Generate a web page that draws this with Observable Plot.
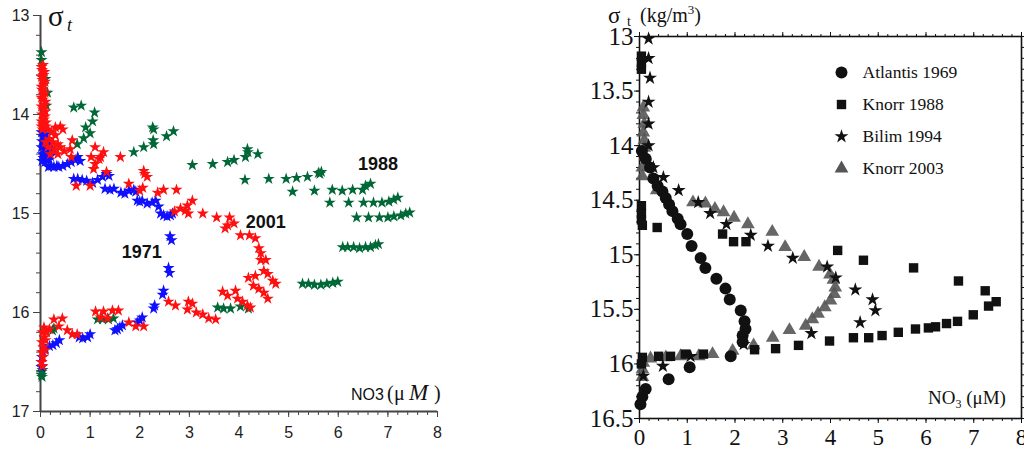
<!DOCTYPE html>
<html><head><meta charset="utf-8">
<script src="https://cdn.jsdelivr.net/npm/d3@7"></script>
<script src="https://cdn.jsdelivr.net/npm/@observablehq/plot@0.6"></script>
<style>
html,body{margin:0;padding:0;background:#fff;}
#wrap{position:relative;width:1024px;height:456px;overflow:hidden;background:#fff;}
#left,#right{position:absolute;top:0;}
#left{left:0;} #right{left:560px;}
#ann{position:absolute;left:0;top:0;pointer-events:none;}
</style></head><body>
<div id="wrap"><div id="left"></div><div id="right"></div>
<svg id="ann" width="1024" height="456" xmlns="http://www.w3.org/2000/svg">
  <text x="48" y="26" font-family="Liberation Serif" font-size="29" fill="#111">σ</text>
  <text x="67" y="31" font-family="Liberation Serif" font-style="italic" font-size="18" fill="#111">t</text>
  <text x="351" y="400" font-family="Liberation Sans" font-size="16" fill="#111">NO3</text>
  <text x="387" y="400" font-family="Liberation Serif" font-size="20" fill="#111">(</text>
  <text x="394" y="400" font-family="Liberation Serif" font-size="20" fill="#111">μ</text>
  <text x="409" y="400" font-family="Liberation Serif" font-style="italic" font-size="23" fill="#111">M</text>
  <text x="434" y="400" font-family="Liberation Serif" font-size="20" fill="#111">)</text>
  <text x="608" y="23" font-family="Liberation Serif" font-size="23" fill="#111">σ</text>
  <text x="627" y="26" font-family="Liberation Serif" font-size="14" fill="#111">t</text>
  <text x="640" y="22" font-family="Liberation Serif" font-size="20" fill="#111">(kg/m<tspan dy="-8" font-size="13">3</tspan><tspan dy="8">)</tspan></text>
  <text x="928" y="404" font-family="Liberation Serif" font-size="19" fill="#111">NO<tspan dy="4" font-size="12">3</tspan><tspan dy="-4"> (μM)</tspan></text>
</svg></div>
<script>
// ---------- Left panel data (NO3 µM, sigma-t) ----------
const xTicksLeft = [0, 1, 2, 3, 4, 5, 6, 7, 8];
const yTicksLeft = [13, 14, 15, 16, 17];

const series1988 = [
  [0.02,13.37],[0.02,13.45],[0.1,13.64],[0.14,13.78],[0.12,13.91],[0.06,14.1],[0.05,14.18],
  [0.67,13.93],[0.82,13.91],[1.09,13.98],[1.05,14.07],[0.91,14.13],[1.0,14.19],[0.87,14.24],[0.74,14.3],
  [1.88,14.38],[2.08,14.33],[2.26,14.13],[2.28,14.15],[2.27,14.26],[2.28,14.3],[2.54,14.22],[2.68,14.17],
  [3.06,14.51],[3.47,14.5],[3.77,14.48],[3.9,14.46],[4.13,14.43],[4.17,14.35],[4.18,14.38],[4.38,14.4],
  [4.12,14.66],[4.6,14.65],[4.95,14.65],[5.16,14.64],[5.38,14.63],[5.6,14.59],[5.66,14.58],[5.63,14.6],
  [5.08,14.78],[5.52,14.77],[5.88,14.76],[6.08,14.77],[6.29,14.76],[6.49,14.76],[6.55,14.72],[6.65,14.7],
  [5.83,14.89],[6.21,14.89],[6.51,14.89],[6.71,14.89],[6.88,14.89],[7.02,14.88],[7.12,14.86],[7.2,14.84],
  [6.37,15.04],[6.61,15.04],[6.83,15.04],[7.0,15.04],[7.12,15.03],[7.26,15.02],[7.36,15.0],[7.44,14.99],
  [6.09,15.34],[6.19,15.34],[6.31,15.34],[6.43,15.35],[6.55,15.34],[6.65,15.34],[6.75,15.32],[6.81,15.31],
  [5.28,15.71],[5.4,15.71],[5.52,15.72],[5.65,15.72],[5.77,15.71],[5.89,15.7],[5.99,15.69],
  [3.57,15.95],[3.69,15.96],[3.83,15.96],[4.03,15.94],[4.19,15.96],
  [1.15,16.07],[1.25,16.07],[1.37,16.07],[1.47,16.06],
  [0.24,16.18],[0.27,16.16],
  [0.02,16.55],[0.02,16.6],[0.03,16.65],[0.04,16.58],[0.02,16.63]
];

const series1971 = [
  [0.02,14.18],[0.05,14.22],[0.1,14.2],[0.03,14.27],[0.08,14.28],[0.14,14.25],[0.02,14.33],[0.07,14.35],
  [0.12,14.33],[0.18,14.3],[0.04,14.4],[0.1,14.4],[0.15,14.38],[0.06,14.44],[0.12,14.45],[0.2,14.42],[0.25,14.36],
  [0.03,14.47],[0.09,14.48],[0.16,14.46],
  [0.16,14.53],[0.22,14.52],[0.27,14.53],[0.33,14.52],[0.37,14.53],[0.45,14.52],[0.54,14.5],[0.62,14.48],
  [0.7,14.46],[0.75,14.43],[0.8,14.47],[0.67,14.65],[0.75,14.65],[0.84,14.66],[0.93,14.67],[1.05,14.69],
  [1.15,14.66],[1.25,14.63],[1.33,14.6],[1.38,14.62],[1.3,14.75],[1.4,14.76],[1.48,14.75],[1.62,14.79],
  [1.7,14.8],[1.78,14.77],[1.88,14.76],[1.92,14.78],[1.95,14.87],[2.0,14.88],[2.05,14.87],[2.15,14.9],
  [2.25,14.89],[2.32,14.87],[2.38,14.93],[2.42,15.0],[2.48,15.02],[2.55,15.03],[2.62,15.02],[2.66,15.0],
  [2.61,15.23],[2.64,15.27],[2.58,15.55],[2.6,15.6],[2.48,15.78],[2.46,15.82],[2.3,15.93],[2.28,15.96],
  [2.05,16.05],[2.0,16.08],[1.95,16.1],[1.65,16.13],[1.6,16.15],[1.55,16.17],[1.5,16.18],
  [1.0,16.22],[0.95,16.25],[0.85,16.26],[0.78,16.25],[0.38,16.28],[0.32,16.31],[0.25,16.33],[0.18,16.34],
  [0.1,16.37],[0.05,16.4],[0.03,16.45],[0.02,16.5],[0.02,16.55]
];

const series2001 = [
  [0.05,13.5],[0.03,13.55],[0.06,13.6],[0.04,13.65],[0.07,13.7],[0.03,13.75],[0.06,13.8],[0.04,13.85],
  [0.08,13.9],[0.05,13.95],[0.03,14.0],[0.07,14.05],[0.05,14.1],[0.1,14.12],[0.04,14.15],
  [0.02,13.52],[0.08,13.57],[0.02,13.62],[0.09,13.67],[0.02,13.72],[0.09,13.78],[0.02,13.83],[0.1,13.87],
  [0.02,13.92],[0.1,13.97],[0.09,14.02],[0.02,14.07],[0.11,14.08],[0.02,14.12],
  [0.15,14.15],[0.22,14.18],[0.3,14.13],[0.4,14.12],[0.45,14.15],[0.3,14.21],[0.18,14.25],[0.1,14.28],
  [0.25,14.28],[0.35,14.3],[0.15,14.33],[0.28,14.35],[0.4,14.33],[0.48,14.37],[0.35,14.4],[0.2,14.4],
  [0.64,14.26],[0.6,14.35],[0.62,14.43],[0.72,14.72],[1.0,14.72],[1.02,14.43],[1.1,14.33],[1.1,14.5],
  [1.21,14.43],[1.27,14.38],[1.18,14.45],[1.07,14.55],[1.33,14.58],[1.61,14.43],[1.78,14.7],[2.08,14.57],
  [2.15,14.63],[2.1,14.6],[2.06,14.74],[2.0,14.77],[2.36,14.79],[2.48,14.76],[2.74,14.76],[2.7,14.98],
  [2.82,14.95],[2.92,14.97],[2.96,14.92],[3.06,14.87],[2.98,15.0],[3.27,15.0],[3.55,15.04],[3.81,15.04],
  [3.77,15.12],[3.9,15.1],[3.72,15.15],[4.03,15.22],[4.21,15.22],[4.33,15.25],[4.4,15.35],[4.44,15.4],
  [4.44,15.47],[4.54,15.47],[4.5,15.58],[4.58,15.61],[4.68,15.68],[4.74,15.71],[4.19,15.65],[4.33,15.63],
  [4.29,15.73],[4.4,15.76],[4.5,15.8],[4.58,15.86],[3.67,15.79],[3.77,15.83],[3.93,15.78],[3.97,15.86],
  [4.07,15.89],[4.17,15.93],[4.23,15.95],[2.58,15.89],[2.72,15.93],[2.98,15.89],[3.06,15.91],[2.96,15.97],
  [3.14,16.0],[3.27,16.02],[3.39,16.06],[3.53,16.07],[2.08,16.14],[1.92,16.14],[1.78,16.1],[1.57,15.98],
  [1.45,15.98],[1.27,15.99],[1.11,15.99],[1.21,16.05],[1.35,16.06],[0.27,16.07],[0.44,16.06],[0.37,16.14],
  [0.54,16.18],[0.64,16.22],[0.74,16.22],[0.07,16.15],[0.12,16.2],[0.04,16.2],[0.08,16.25],[0.03,16.3],
  [0.06,16.35],[0.03,16.4],[0.05,16.45],[0.02,16.5],[0.04,16.54],[0.1,16.28],[0.09,16.38],[0.18,16.17]
];

const yearLabels = ["1988", "2001", "1971"];
const yearLabelX = [6.8, 4.54, 2.04];
const yearLabelY = [14.5, 15.09, 15.39];

// ---------- Right panel data ----------
const xTicksRight = [0, 1, 2, 3, 4, 5, 6, 7, 8];
const yTicksRight = [13, 13.5, 14, 14.5, 15, 15.5, 16, 16.5];
const legendNames = ["Atlantis 1969", "Knorr 1988", "Bilim 1994", "Knorr 2003"];

const atlantis1969 = [
  [0.05,14.05],[0.13,14.12],[0.22,14.2],[0.29,14.3],[0.38,14.37],[0.48,14.42],[0.55,14.48],[0.62,14.54],
  [0.69,14.6],[0.8,14.67],[0.86,14.72],[1.0,14.81],[1.09,14.92],[1.28,15.03],[1.38,15.12],[1.61,15.22],
  [1.8,15.31],[1.89,15.41],[2.12,15.51],[2.2,15.61],[2.22,15.68],[2.16,15.74],[2.16,15.8],[1.91,15.93],
  [1.05,16.03],[0.61,16.14],[0.13,16.23],[0.06,16.3],[0.02,16.37]
];
const knorr1988 = [
  [0.04,13.18],[0.04,13.24],[0.04,13.3],[0.04,14.55],[0.04,14.62],[0.04,14.68],[0.06,14.73],[0.37,14.75],
  [1.74,14.81],[1.97,14.88],[2.23,14.88],[4.15,14.96],[4.69,15.05],[5.74,15.12],[6.68,15.24],[7.24,15.33],
  [7.47,15.43],[7.31,15.47],[6.99,15.55],[6.66,15.61],[6.43,15.63],[6.2,15.66],[6.05,15.67],[5.78,15.68],
  [5.42,15.71],[5.08,15.74],[4.8,15.76],[4.48,15.76],[3.98,15.79],[3.33,15.83],[2.85,15.86],[2.41,15.87],
  [1.34,15.91],[0.96,15.91],[0.65,15.93],[0.4,15.93],[0.06,15.94],[0.04,16.0]
];
const bilim1994 = [
  [0.19,13.02],[0.19,13.2],[0.22,13.38],[0.19,13.6],[0.19,13.8],[0.19,14.0],[0.29,14.2],[0.5,14.29],
  [0.82,14.41],[1.23,14.52],[1.48,14.62],[1.82,14.72],[2.33,14.82],[2.69,14.92],[3.21,15.03],[3.93,15.11],
  [4.11,15.21],[4.52,15.32],[4.88,15.41],[4.94,15.51],[4.62,15.62],[3.6,15.72],[2.18,15.82],[1.07,15.93],
  [0.49,16.02],[0.08,16.11]
];
const knorr2003 = [
  [0.08,13.65],[0.08,13.72],[0.1,13.8],[0.08,13.88],[0.1,13.95],[0.1,14.02],[0.12,14.1],[0.06,14.2],[0.06,14.28],
  [0.36,14.41],[1.12,14.52],[1.38,14.53],[1.58,14.58],[1.76,14.61],[1.98,14.66],[2.27,14.72],[2.78,14.79],
  [3.05,14.93],[3.45,15.02],[3.76,15.11],[3.99,15.18],[4.06,15.23],[4.1,15.3],[4.08,15.36],[4.0,15.42],
  [3.88,15.48],[3.74,15.54],[3.62,15.59],[3.48,15.65],[3.14,15.69],[2.79,15.76],[2.39,15.83],[1.95,15.88],
  [1.53,15.91],[1.24,15.93],[0.86,15.93],[0.55,15.94],[0.23,15.95],[0.08,15.99],[0.06,16.05],[0.06,16.12]
];

const px = d => d[0], py = d => d[1];
const axisColor = "#444";
const plain = d => String(d);

// ---------- Left plot ----------
const left = Plot.plot({
  width: 460, height: 456,
  marginLeft: 40, marginRight: 23, marginTop: 15, marginBottom: 45,
  x: {domain: [0, 8]},
  y: {domain: [13, 17], reverse: true},
  style: {fontFamily: "Liberation Sans, Arial, sans-serif", fontSize: "16px", color: "#222", background: "transparent", overflow: "visible"},
  marks: [
    Plot.axisX({ticks: d3.range(0, 8.001, 0.2), tickSize: 4, tickFormat: () => "", stroke: axisColor, label: null}),
    Plot.axisX({ticks: xTicksLeft, tickSize: 6, tickPadding: 9, tickFormat: plain, stroke: axisColor, label: null, fontSize: 16}),
    Plot.axisY({ticks: d3.range(13, 17.001, 0.2), tickSize: 4, tickFormat: () => "", stroke: axisColor, label: null}),
    Plot.axisY({ticks: yTicksLeft, tickSize: 7, tickPadding: 4, tickFormat: plain, stroke: axisColor, label: null, fontSize: 16}),
    Plot.ruleX([0], {stroke: axisColor, strokeWidth: 2}),
    Plot.ruleY([17], {stroke: axisColor, strokeWidth: 2}),
    Plot.dot(series1988, {x: px, y: py, symbol: "star", r: 3.8, fill: "#006837"}),
    Plot.dot(series1971, {x: px, y: py, symbol: "star", r: 3.8, fill: "#1010ff"}),
    Plot.dot(series2001, {x: px, y: py, symbol: "star", r: 3.8, fill: "#ff1010"}),
    Plot.text(yearLabels, {x: (d, i) => yearLabelX[i], y: (d, i) => yearLabelY[i], text: d => d,
      fontWeight: "bold", fontSize: 18, fill: "#111"})
  ]
});
document.getElementById("left").appendChild(left);

// ---------- Right plot ----------
const legendSymbols = ["circle", "square", "star", "triangle"];
const legendFills = ["#111", "#111", "#111", "#555"];
const legendR = [6, 5.3, 4.4, 5.1];
const legendMarks = [];
legendNames.forEach((name, i) => {
  legendMarks.push(Plot.dot([name], {frameAnchor: "top-left", dx: 202, dy: 36 + i * 32,
    symbol: legendSymbols[i], r: legendR[i], fill: legendFills[i]}));
  legendMarks.push(Plot.text([name], {frameAnchor: "top-left", dx: 223, dy: 36 + i * 32,
    text: d => d, textAnchor: "start", lineAnchor: "middle", fontSize: 17.5,
    fontFamily: "Liberation Serif, Times New Roman, serif", fill: "#111"}));
});

const right = Plot.plot({
  width: 464, height: 456,
  marginLeft: 79, marginRight: 3, marginTop: 36, marginBottom: 38,
  x: {domain: [0, 8]},
  y: {domain: [13, 16.5], reverse: true},
  style: {fontFamily: "Liberation Serif, Times New Roman, serif", fontSize: "23px", color: "#111", background: "transparent", overflow: "visible"},
  marks: [
    Plot.axisX({anchor: "bottom", ticks: d3.range(0, 8.001, 0.2), tickSize: 3, tickFormat: () => "", label: null}),
    Plot.axisX({anchor: "bottom", ticks: xTicksRight, tickSize: 5, tickPadding: 5, tickFormat: plain, label: null, fontSize: 23}),
    Plot.axisX({anchor: "top", ticks: d3.range(0, 8.001, 0.2), tickSize: 3, tickFormat: () => "", label: null}),
    Plot.axisX({anchor: "top", ticks: xTicksRight, tickSize: 5, tickFormat: () => "", label: null}),
    Plot.axisY({anchor: "left", ticks: d3.range(13, 16.501, 0.1), tickSize: 3, tickFormat: () => "", label: null}),
    Plot.axisY({anchor: "left", ticks: yTicksRight, tickSize: 5, tickPadding: 1, tickFormat: plain, label: null, fontSize: 25}),
    Plot.axisY({anchor: "right", ticks: d3.range(13, 16.501, 0.1), tickSize: 3, tickFormat: () => "", label: null}),
    Plot.frame({stroke: "#111", strokeWidth: 1.6}),
    Plot.dot(knorr2003, {x: px, y: py, symbol: "triangle", r: 5.1, fill: "#555", fillOpacity: 0.9}),
    Plot.dot(knorr1988, {x: px, y: py, symbol: "square", r: 5.3, fill: "#111"}),
    Plot.dot(atlantis1969, {x: px, y: py, symbol: "circle", r: 6, fill: "#111"}),
    Plot.dot(bilim1994, {x: px, y: py, symbol: "star", r: 4.4, fill: "#111"}),
    ...legendMarks
  ]
});
document.getElementById("right").appendChild(right);
</script>
</body></html>
